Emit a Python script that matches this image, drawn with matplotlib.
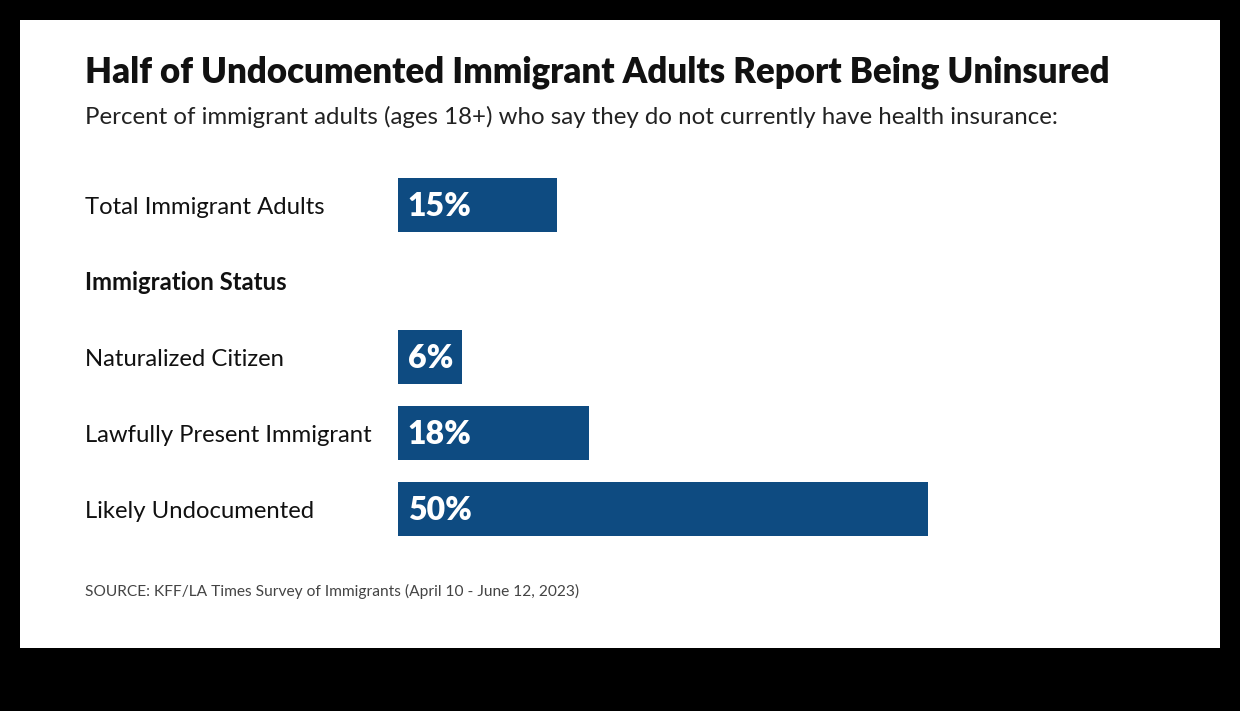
import matplotlib.pyplot as plt
from matplotlib.patches import Rectangle

plt.rcParams["font.family"] = ["Lato", "DejaVu Sans"]

title = "Half of Undocumented Immigrant Adults Report Being Uninsured"
subtitle = ("Percent of immigrant adults (ages 18+) who say they do not "
            "currently have health insurance:")
source = "SOURCE: KFF/LA Times Survey of Immigrants (April 10 - June 12, 2023)"

rows = ["Total Immigrant Adults", "Immigration Status", "Naturalized Citizen",
        "Lawfully Present Immigrant", "Likely Undocumented"]
values = [15, None, 6, 18, 50]
is_header = [False, True, False, False, False]

BAR_COLOR = "#0E4B81"
W, H = 1240, 711

fig = plt.figure(figsize=(W / 100, H / 100), dpi=100, facecolor="black")

# white card on black background
fig.patches.append(Rectangle((20 / W, (H - 648) / H), 1200 / W, 628 / H,
                             transform=fig.transFigure, facecolor="white",
                             edgecolor="none", zorder=-10))

fig.text(85 / W, 1 - 72 / H, title, fontsize=25, fontweight="heavy",
         color="#111111", va="center", ha="left")
fig.text(85 / W, 1 - 117 / H, subtitle, fontsize=17.3, color="#222222",
         va="center", ha="left")
fig.text(85 / W, 1 - 591 / H, source, fontsize=11.2, color="#444444",
         va="center", ha="left")

# bar axes: x 398..1220 px, rows pitch 76 px starting at centre y=205
ax = fig.add_axes([398 / W, (H - 547) / H, 822 / W, 380 / H])
ax.set_zorder(5)
ax.set_xlim(0, 822 / 10.6)
ax.set_ylim(len(rows) - 0.5, -0.5)
ax.axis("off")

for i, (name, val, hdr) in enumerate(zip(rows, values, is_header)):
    y_fig = 1 - (207 + 76 * i) / H
    fig.text(85 / W, y_fig, name, fontsize=17.2,
             fontweight="bold" if hdr else "normal", color="#111111",
             va="center", ha="left")
    if val is None:
        continue
    ax.barh(i, val, height=54 / 76, color=BAR_COLOR, edgecolor="none")
    ax.text(0.9, i + 0.02, f"{val}%", color="white", fontsize=23,
            fontweight="heavy", va="center", ha="left")

fig.savefig("out.png", dpi=100, facecolor="black")
